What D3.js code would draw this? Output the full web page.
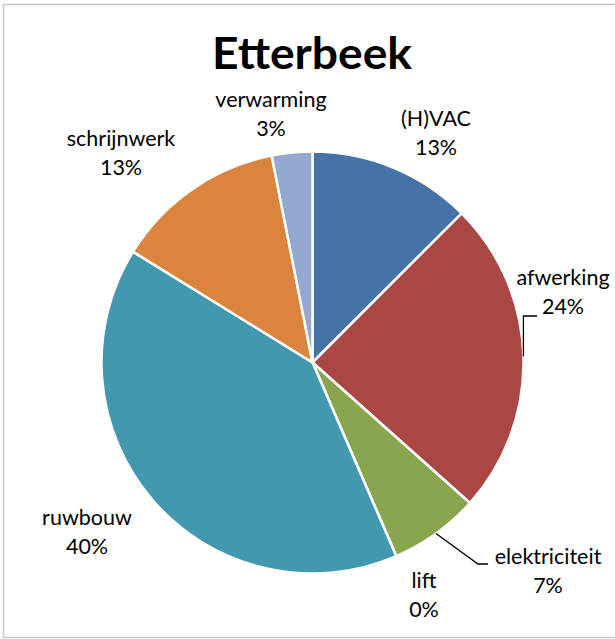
<!DOCTYPE html>
<html><head><meta charset="utf-8">
<script src="https://cdn.jsdelivr.net/npm/d3@7"></script>
<style>html,body{margin:0;padding:0;background:#fff;}svg{display:block;}</style>
</head><body>
<svg id="c" width="615" height="639"></svg>
<script>
// ---- data ----
const title = "Etterbeek";
const categories = ["(H)VAC", "afwerking", "elektriciteit", "lift", "ruwbouw", "schrijnwerk", "verwarming"];
const values = [12.5, 24.1, 6.9, 0, 40.3, 13.1, 3.1];
const colors = ["#4572A7", "#AA4643", "#89A54E", "#71588F", "#4198AF", "#DB843D", "#93A9CF"];

// ---- layout (label centres / first baseline, leader line types) ----
const labelPos = [[436,126],[563,285],[548,564],[424,588],[87,525],[121,146],[271,107]];
const leader = [null, "afw", "elek", null, null, null, null];

const svg = d3.select("#c");
svg.append("rect").attr("x",3.5).attr("y",4.5).attr("width",640).attr("height",633)
  .attr("fill","#fff").attr("stroke","#c8c8c8").attr("stroke-width",1.5);

svg.append("text").attr("x",312).attr("y",69).attr("text-anchor","middle")
  .attr("font-family","Lato, 'Open Sans', sans-serif").attr("font-weight","bold")
  .attr("font-size",43).attr("textLength",200).attr("lengthAdjust","spacingAndGlyphs")
  .attr("fill","#000").text(title);

const cx = 312.5, cy = 362.5, R = 211;
const total = d3.sum(values);
const pie = d3.pie().sort(null).value(d => d)(values);
const arc = d3.arc().innerRadius(0).outerRadius(R);
const g = svg.append("g").attr("transform",`translate(${cx},${cy})`);
g.selectAll("path").data(pie).join("path")
  .attr("d", arc).attr("fill",(d,i)=>colors[i])
  .attr("stroke","#fff").attr("stroke-width",2.5).attr("stroke-linejoin","round");

// leader lines
pie.forEach((d,i)=>{
  if(!leader[i]) return;
  const a = (d.startAngle + d.endAngle)/2;
  const px = cx + R*Math.sin(a), py = cy - R*Math.cos(a);
  let pts;
  if(leader[i]==="afw") pts = [[px,py],[px,316],[537,316]];
  else pts = [[px,py],[478,564],[488,564]];
  svg.append("polyline").attr("points",pts.map(p=>p.join(",")).join(" "))
    .attr("fill","none").attr("stroke","#000").attr("stroke-width",1.3);
});

// labels
const fmt = v => Math.round(v/total*100) + "%";
categories.forEach((c,i)=>{
  const [x,y] = labelPos[i];
  const t = svg.append("text").attr("text-anchor","middle")
    .attr("font-family","Lato, 'Open Sans', sans-serif").attr("font-size",21.5).attr("fill","#000");
  t.append("tspan").attr("x",x).attr("y",y).text(c);
  t.append("tspan").attr("x",x).attr("y",y+28.5).text(fmt(values[i]));
});
</script>
</body></html>
